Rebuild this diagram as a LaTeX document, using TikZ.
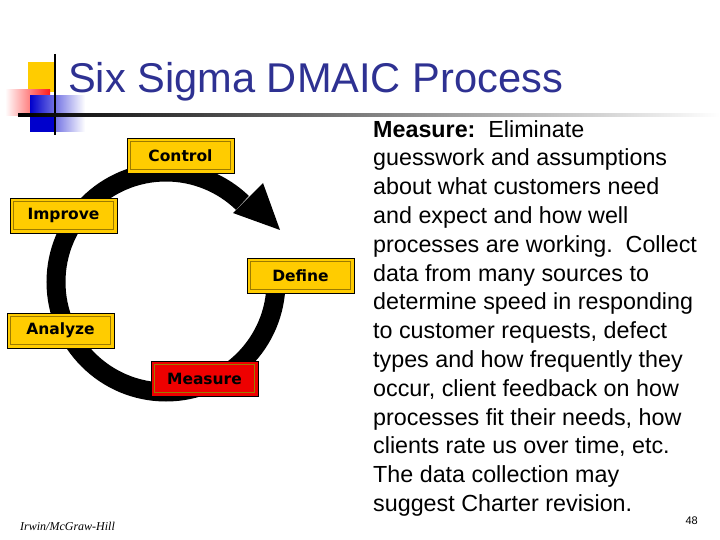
\documentclass[tikz,border=0pt]{standalone}
\usepackage{fontspec}
\setmainfont{Liberation Sans}
\newfontfamily\boxfont{DejaVu Sans}
\newfontfamily\footfont{Liberation Serif}
\usetikzlibrary{arrows.meta}
\definecolor{gold}{HTML}{FFCC00}
\definecolor{dgold}{HTML}{9C7A00}
\definecolor{titleblue}{HTML}{2E3192}
\definecolor{mred}{HTML}{EE0000}
\tikzset{
  stage/.style={draw=black, line width=0.8pt, fill=gold, minimum width=107pt, minimum height=35pt, inner sep=0pt, font=\boxfont\bfseries\fontsize{15.5}{17}\selectfont},
  inner/.style={draw=dgold, line width=0.8pt},
}
\begin{document}
\begin{tikzpicture}[x=1pt,y=-1pt]
\useasboundingbox (0,0) rectangle (720,540);
\fill[white] (0,0) rectangle (720,540);
% logo
\fill[gold] (28,62) rectangle (55,92);
\shade[left color=white, right color=red!90] (5,90) rectangle (50,116);
\shade[left color=blue!80!black, right color=white] (30,96) rectangle (85,132);
\fill[blue!80!black] (30,116) rectangle (55,132);
\draw[black, line width=1.3pt] (55,54) -- (55,135);
\shade[left color=black, right color=white] (18,114) rectangle (720,116.5);
\node[anchor=base west, text=titleblue, font=\fontsize{41.6}{44}\selectfont, inner sep=0pt] (title) at (68,93) {Six Sigma DMAIC Process};
% cycle
\coordinate (c) at (166,282);
\draw[line width=19pt] (c) ++(0:110) arc[start angle=0, end angle=314, radius=110] coordinate (aend);
\fill[black] (263,183) -- (233,213) -- (280,230) -- cycle;
% stage boxes
\node[stage] (control) at (180.5,155.5) {Control};
\node[stage] (improve) at (63.5,215.5) {Improve};
\node[stage] (define) at (300.5,275.5) {Define};
\node[stage] (analyze) at (60.5,330.5) {Analyze};
\node[stage, fill=mred] (measure) at (204.5,378.5) {Measure};
\foreach \n in {control,improve,define,analyze,measure}{
  \draw[inner] ([shift={(4,-4)}]\n.south west) rectangle ([shift={(-4,4)}]\n.north east);
}
% right text
\node[anchor=north west, align=left, inner sep=0pt, font=\fontsize{23.3}{28.8}\selectfont] (desc) at (373,120) {\textbf{Measure:}\ \ Eliminate\\guesswork and assumptions\\about what customers need\\and expect and how well\\processes are working.\ \ Collect\\data from many sources to\\determine speed in responding\\to customer requests, defect\\types and how frequently they\\occur, client feedback on how\\processes fit their needs, how\\clients rate us over time, etc.\\The data collection may\\suggest Charter revision.};
\node[anchor=base west, inner sep=0pt, font=\footfont\itshape\fontsize{12}{14}\selectfont] (foot) at (20,530) {Irwin/McGraw-Hill};
\node[anchor=base east, inner sep=0pt, font=\fontsize{11}{13}\selectfont] (page) at (698,524) {48};
\end{tikzpicture}
\end{document}
